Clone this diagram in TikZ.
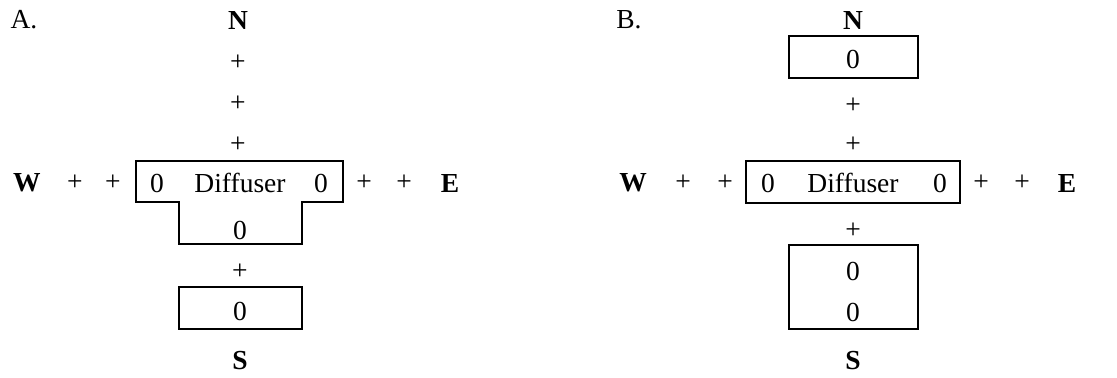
\documentclass[tikz,border=0pt]{standalone}
\usepackage{fontspec}
\setmainfont{Liberation Serif}
\usetikzlibrary{positioning}

\begin{document}
\begin{tikzpicture}[
    x=0.5pt, y=-0.5pt,
    txt/.style={
      inner sep=0pt,
      font=\fontsize{13.75}{16}\selectfont
    },
    compass/.style={
      inner sep=0pt,
      font=\fontsize{13.75}{16}\selectfont\bfseries
    },
    frame/.style={draw, line width=1.1pt}
  ]
    \useasboundingbox (0,0) rectangle (1117,377);

    % panel A
    \node[txt] (labA) at (24,20) {A.};
    \node[compass] (nA) at (238,20) {N};
    \node[txt] (pnA1) at (238,63) {+};
    \node[txt] (pnA2) at (238,104) {+};
    \node[txt] (pnA3) at (238,145) {+};
    \node[compass] (wA) at (27,183) {W};
    \node[txt] (pwA1) at (75,183) {+};
    \node[txt] (pwA2) at (113,183) {+};
    \node[txt] (zwA) at (157,183) {0};
    \node[txt] (difA) at (240,183) {Diffuser};
    \node[txt] (zeA) at (321,183) {0};
    \node[txt] (peA1) at (364,183) {+};
    \node[txt] (peA2) at (404,183) {+};
    \node[compass] (eA) at (450,183) {E};
    \node[txt] (zsA1) at (240,230) {0};
    \node[txt] (psA) at (240,272) {+};
    \node[txt] (zsA2) at (240,311) {0};
    \node[compass] (sA) at (240,361) {S};

    \draw[frame] (136,161) -- (343,161) -- (343,202) -- (302,202) -- (302,244)
      -- (179,244) -- (179,202) -- (136,202) -- cycle;
    \draw[frame] (179,287) rectangle (302,329);

    % panel B
    \node[txt] (labB) at (629,20) {B.};
    \node[compass] (nB) at (853,20) {N};
    \node[txt] (znB) at (853,59) {0};
    \node[txt] (pnB1) at (853,106) {+};
    \node[txt] (pnB2) at (853,145) {+};
    \node[compass] (wB) at (633,183) {W};
    \node[txt] (pwB1) at (683,183) {+};
    \node[txt] (pwB2) at (725,183) {+};
    \node[txt] (zwB) at (768,183) {0};
    \node[txt] (difB) at (853,183) {Diffuser};
    \node[txt] (zeB) at (940,183) {0};
    \node[txt] (peB1) at (981,183) {+};
    \node[txt] (peB2) at (1022,183) {+};
    \node[compass] (eB) at (1067,183) {E};
    \node[txt] (psB) at (853,231) {+};
    \node[txt] (zsB1) at (853,271) {0};
    \node[txt] (zsB2) at (853,312) {0};
    \node[compass] (sB) at (853,361) {S};

    \draw[frame] (789,36) rectangle (918,78);
    \draw[frame] (746,161) rectangle (960,203);
    \draw[frame] (789,245) rectangle (918,329);
  \end{tikzpicture}
\end{document}
